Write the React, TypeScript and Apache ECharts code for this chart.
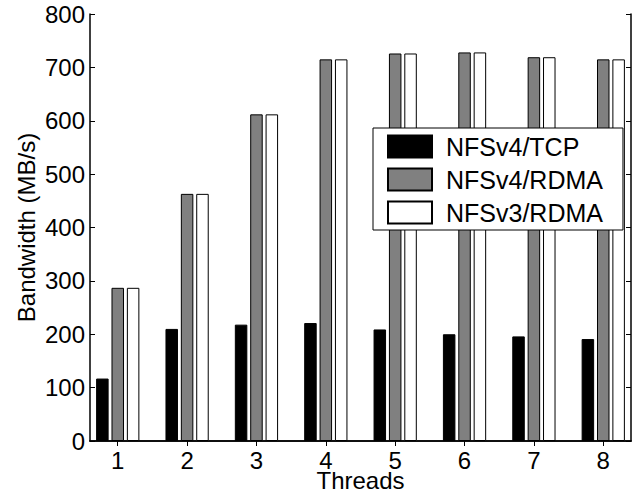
import React, { useEffect, useRef } from "react";
import * as echarts from "echarts";

const threads = [1, 2, 3, 4, 5, 6, 7, 8];
const nfs4Tcp = [117, 210, 218, 221, 209, 200, 196, 191];
const nfs4Rdma = [287, 463, 612, 715, 726, 728, 719, 715];
const nfs3Rdma = [287, 463, 612, 715, 726, 728, 719, 715];
const seriesNames = ["NFSv4/TCP", "NFSv4/RDMA", "NFSv3/RDMA"];
const seriesColors = ["#000000", "#808080", "#ffffff"];
const yTicks = [0, 100, 200, 300, 400, 500, 600, 700, 800];

const FONT = "'Liberation Sans', Arial, Helvetica, sans-serif";

export default function App() {
  const ref = useRef<HTMLDivElement>(null);
  useEffect(() => {
    document.body.style.margin = "0";
    if (!ref.current) return;
    const chart = echarts.init(ref.current, null, { renderer: "svg" });
    const allValues = [nfs4Tcp, nfs4Rdma, nfs3Rdma];
    const tickStyle = { show: true, inside: true, length: 5, lineStyle: { color: "#000", width: 1 } };
    chart.setOption({
      animation: false,
      backgroundColor: "#fff",
      textStyle: { fontFamily: FONT },
      grid: { left: 90, right: 5, top: 14, bottom: 56, containLabel: false, outerBoundsMode: "none" },
      legend: {
        orient: "vertical",
        left: 373,
        top: 128,
        padding: [6, 20, 5, 14],
        itemWidth: 44,
        itemHeight: 22,
        itemGap: 8,
        backgroundColor: "#fff",
        borderColor: "#000",
        borderWidth: 1,
        borderRadius: 0,
        icon: "rect",
        textStyle: { fontFamily: FONT, fontSize: 25, color: "#000", padding: [0, 0, 0, 9] },
        data: seriesNames,
      },
      xAxis: [
        {
          type: "value",
          min: 0.6,
          max: 8.4,
          name: "Threads",
          nameLocation: "middle",
          nameGap: 29,
          nameMoveOverlap: false,
          nameTextStyle: { fontFamily: FONT, fontSize: 24, lineHeight: 20, color: "#000", verticalAlign: "top" },
          axisLine: { show: true, lineStyle: { color: "#000", width: 1.5 } },
          axisTick: { ...tickStyle, customValues: threads },
          axisLabel: {
            customValues: threads,
            fontFamily: FONT,
            fontSize: 24,
            lineHeight: 20,
            verticalAlign: "top",
            color: "#000",
            margin: 9,
          },
          splitLine: { show: false },
        },
        {
          type: "value",
          position: "top",
          min: 0.6,
          max: 8.4,
          axisLine: { show: true, lineStyle: { color: "#000", width: 1.5 } },
          axisTick: { ...tickStyle, customValues: threads },
          axisLabel: { show: false, customValues: threads },
          splitLine: { show: false },
        },
      ],
      yAxis: [
        {
          type: "value",
          min: 0,
          max: 800,
          interval: 100,
          name: "Bandwidth (MB/s)",
          nameLocation: "middle",
          nameGap: 52,
          nameMoveOverlap: false,
          nameTextStyle: { fontFamily: FONT, fontSize: 24, color: "#000" },
          axisLine: { show: true, lineStyle: { color: "#000", width: 1.5 } },
          axisTick: { ...tickStyle, customValues: yTicks },
          axisLabel: { customValues: yTicks, fontFamily: FONT, fontSize: 24, color: "#000", margin: 5 },
          splitLine: { show: false },
        },
        {
          type: "value",
          position: "right",
          min: 0,
          max: 800,
          interval: 100,
          axisLine: { show: true, lineStyle: { color: "#000", width: 1.5 } },
          axisTick: { ...tickStyle, customValues: yTicks },
          axisLabel: { show: false },
          splitLine: { show: false },
        },
      ],
      series: seriesNames.map((name, i) => ({
        name,
        type: "bar",
        xAxisIndex: 0,
        yAxisIndex: 0,
        barWidth: 12.5,
        barGap: "23%",
        itemStyle: { color: seriesColors[i], borderColor: "#000", borderWidth: 1 },
        data: threads.map((t, j) => [t, allValues[i][j]]),
      })),
    });
    return () => chart.dispose();
  }, []);
  return <div ref={ref} style={{ width: 636, height: 497 }} />;
}
